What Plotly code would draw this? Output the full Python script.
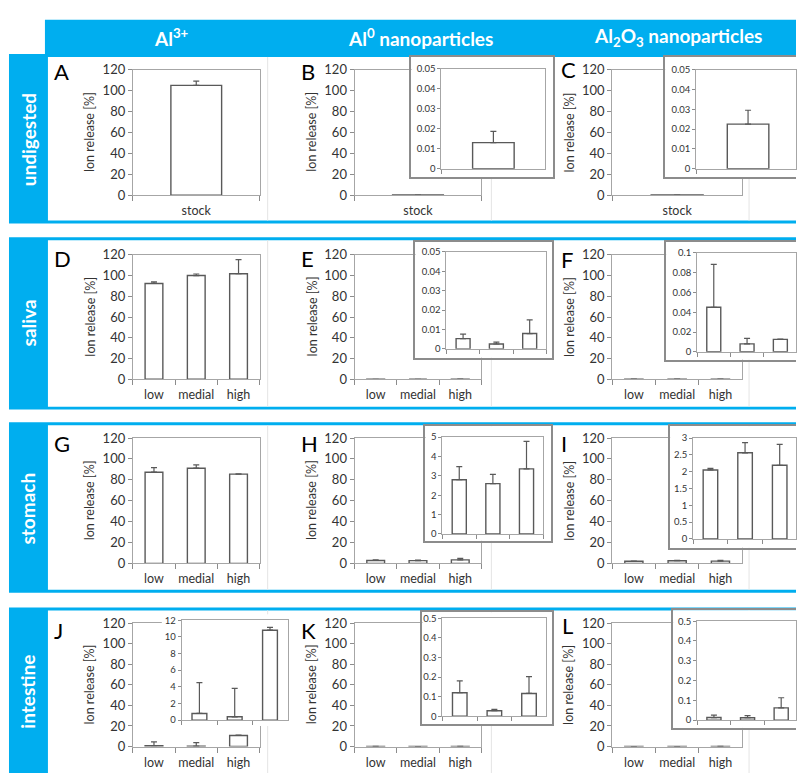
import plotly.graph_objects as go

W, H = 797, 781
BLUE = "#00AEEF"
FONT = "Lato"
TXT = "#333333"
AXC = "#8c8c8c"
FRAME = "#a6a6a6"
BARC = "#595959"
BOXC = "#8c8c8c"
SEP = "#e4e4e4"

# ---------------- data ----------------
stock_cats = ["stock"]
dose_cats = ["low", "medial", "high"]
col_titles = ["Al<sup>3+</sup>", "Al<sup>0</sup> nanoparticles",
              "Al<sub>2</sub>O<sub>3</sub> nanoparticles"]
row_titles = ["undigested", "saliva", "stomach", "intestine"]
y_title = "Ion release [%]"

A_val = [105.0];               A_err = [4.0]
B_val = [0.013];               B_err = [0.0056]
C_val = [0.0225];              C_err = [0.007]
D_val = [92.4, 100.0, 101.8];  D_err = [1.6, 1.5, 13.5]
E_val = [0.0053, 0.0025, 0.0079]; E_err = [0.0023, 0.001, 0.007]
F_val = [0.045, 0.008, 0.0126];   F_err = [0.0434, 0.0056, 0.0003]
G_val = [87.3, 91.1, 85.4];    G_err = [4.4, 3.1, 0.4]
H_val = [2.8, 2.6, 3.36];      H_err = [0.67, 0.47, 1.42]
I_val = [2.05, 2.56, 2.19];    I_err = [0.05, 0.3, 0.62]
J_val = [0.8, 0.4, 10.8];      J_err = [3.7, 3.4, 0.33]
K_val = [0.12, 0.028, 0.116];  K_err = [0.06, 0.007, 0.086]
L_val = [0.013, 0.012, 0.062]; L_err = [0.012, 0.011, 0.051]

main_range = [0, 120]
main_dtick = 20
# inset y axis: (max, dtick)
inset_scale = {"B": (0.05, 0.01), "C": (0.05, 0.01), "E": (0.05, 0.01),
               "F": (0.1, 0.02), "H": (5, 1), "I": (3, 0.5), "J": (12, 2),
               "K": (0.5, 0.1), "L": (0.5, 0.1)}

panels = [
    ("A", stock_cats, A_val, A_err), ("B", stock_cats, B_val, B_err), ("C", stock_cats, C_val, C_err),
    ("D", dose_cats, D_val, D_err), ("E", dose_cats, E_val, E_err), ("F", dose_cats, F_val, F_err),
    ("G", dose_cats, G_val, G_err), ("H", dose_cats, H_val, H_err), ("I", dose_cats, I_val, I_err),
    ("J", dose_cats, J_val, J_err), ("K", dose_cats, K_val, K_err), ("L", dose_cats, L_val, L_err),
]

# ---------------- geometry (pixels) ----------------
col_x = [(133, 260), (355, 482), (613, 743)]
row_y = [(63, 191), (252, 379), (439, 567), (628, 754)]
letter_xy = {"A": (53, 57), "B": (300, 57), "C": (561, 55),
             "D": (53, 248), "E": (300, 248), "F": (561, 249),
             "G": (53, 437), "H": (300, 437), "I": (561, 437),
             "J": (53, 628), "K": (300, 628), "L": (562, 623)}
# box (l,t,r,b), plot (l,t,r,b), border
inset_geom = {
    "B": ((412, 50, 554, 173), (442, 62, 546, 164), True),
    "C": ((666, 50, 797, 173), (697, 63, 801, 164), True),
    "E": ((416, 239, 553, 357), (447, 249, 547, 348), True),
    "F": ((667, 239, 797, 359), (698, 250, 798, 351), True),
    "H": ((426, 427, 552, 544), (443, 438, 544, 537), True),
    "I": ((671, 427, 797, 551), (694, 439, 798, 542), True),
    "J": ((162, 619, 292, 733), (182, 625, 288, 727), False),
    "K": ((423, 617, 553, 731), (443, 623, 547, 723), True),
    "L": ((674, 615, 797, 735), (698, 626, 799, 727), True),
}
rows_px = [(47, 220), (234, 410), (423, 597), (612, 790)]
sep_x = [268, 492, 750]


def dx(l, r):
    return [max(0.0, l / W), min(1.0, r / W)]


def dy(t, b):
    return [max(0.0, 1 - b / H), min(1.0, 1 - t / H)]


def nm(k):
    return "" if k == 1 else str(k)


fig = go.Figure()
layout = dict(width=W, height=H, margin=dict(l=0, r=0, t=0, b=0),
              paper_bgcolor="white", plot_bgcolor="white", showlegend=False,
              font=dict(family=FONT, color=TXT))
shapes = []
annotations = []

# background decorations
shapes.append(dict(type="rect", xref="paper", yref="paper", x0=45 / W, x1=1, y0=1 - 47 / H, y1=1 - 12 / H,
                   fillcolor=BLUE, line=dict(width=0), layer="below"))
for (t, b) in rows_px:
    shapes.append(dict(type="rect", xref="paper", yref="paper", x0=9 / W, x1=1,
                       y0=max(0, 1 - b / H), y1=1 - t / H, fillcolor=BLUE, line=dict(width=0), layer="below"))
    shapes.append(dict(type="rect", xref="paper", yref="paper", x0=48 / W, x1=1,
                       y0=max(0, 1 - (b - 3) / H), y1=1 - (t + 3) / H, fillcolor="white", line=dict(width=0),
                       layer="below"))
    for sx in sep_x:
        shapes.append(dict(type="line", xref="paper", yref="paper", x0=sx / W, x1=sx / W,
                           y0=max(0, 1 - (b - 3) / H), y1=1 - (t + 3) / H, line=dict(color=SEP, width=1),
                           layer="below"))

header_cx = [172, 421, 679]
for txt, cx in zip(col_titles, header_cx):
    annotations.append(dict(text="<b>" + txt + "</b>", x=cx / W, y=1 - 30 / H, xref="paper", yref="paper",
                            showarrow=False, font=dict(family=FONT, size=19, color="white"),
                            xanchor="center", yanchor="middle"))
row_cy = [134, 321, 511, 698]
for txt, cy in zip(row_titles, row_cy):
    annotations.append(dict(text="<b>" + txt + "</b>", x=28 / W, y=1 - cy / H, xref="paper", yref="paper",
                            showarrow=False, textangle=-90, font=dict(family=FONT, size=19, color="white"),
                            xanchor="center", yanchor="middle"))


def bar_trace(cats, vals, errs, k, width):
    return go.Bar(x=cats, y=vals, xaxis="x" + nm(k), yaxis="y" + nm(k), width=width,
                  marker=dict(color="white", line=dict(color=BARC, width=1.4)),
                  error_y=dict(type="data", symmetric=False, array=errs, arrayminus=[0] * len(errs),
                               color=BARC, thickness=1.2, width=3),
                  hoverinfo="skip")


# main panels: axes 1..12
for i, (letter, cats, vals, errs) in enumerate(panels):
    k = i + 1
    r, c = divmod(i, 3)
    l, rr = col_x[c]
    t, b = row_y[r]
    layout["xaxis" + nm(k)] = dict(domain=dx(l, rr), anchor="y" + nm(k), type="category",
                                   categoryorder="array", categoryarray=cats,
                                   range=[-0.5, len(cats) - 0.5], showline=True, mirror=True,
                                   linecolor=FRAME, linewidth=1, ticks="outside", tickson="boundaries",
                                   ticklen=5, tickcolor=AXC, tickangle=0, ticklabelstandoff=4,
                                   tickfont=dict(family=FONT, size=12.5, color=TXT),
                                   showgrid=False, zeroline=False, fixedrange=True)
    layout["yaxis" + nm(k)] = dict(domain=dy(t, b), anchor="x" + nm(k), range=main_range, dtick=main_dtick,
                                   tick0=0, showline=True, mirror=True, linecolor=FRAME, linewidth=1,
                                   ticks="outside", ticklen=4, tickcolor=AXC,
                                   tickfont=dict(family=FONT, size=13, color=TXT),
                                   showgrid=False, zeroline=False, fixedrange=True)
    fig.add_trace(bar_trace(cats, vals, errs, k, 0.4 if len(cats) == 1 else 0.42))
    annotations.append(dict(text=y_title, x=(l - 43) / W, y=1 - (t + b) / 2 / H, xref="paper", yref="paper",
                            showarrow=False, textangle=-90, font=dict(family=FONT, size=12.5, color=TXT),
                            xanchor="center", yanchor="middle"))
    lx, ly = letter_xy[letter]
    annotations.append(dict(text=letter, x=(lx - 1) / W, y=1 - (ly - 8) / H, xref="paper", yref="paper",
                            showarrow=False, font=dict(family=FONT, size=22, color="black"),
                            xanchor="left", yanchor="top"))

# inset boxes: axes 13..21 ; inset plots: 22..30
inset_letters = [p[0] for p in panels if p[0] in inset_geom]
pdict = {p[0]: p for p in panels}
for j, letter in enumerate(inset_letters):
    kb = 13 + j
    box, plot, border = inset_geom[letter]
    bl, bt, br, bb = box
    cut = br >= W
    layout["xaxis" + nm(kb)] = dict(domain=dx(bl, br), anchor="y" + nm(kb), range=[0, 1], showline=border,
                                    mirror=True, linecolor=BOXC, linewidth=2, showticklabels=False,
                                    ticks="", showgrid=False, zeroline=False, fixedrange=True)
    layout["yaxis" + nm(kb)] = dict(domain=dy(bt, bb), anchor="x" + nm(kb), range=[0, 1], showline=border,
                                    mirror=(not cut), linecolor=BOXC, linewidth=2, showticklabels=False,
                                    ticks="", showgrid=False, zeroline=False, fixedrange=True)
    fig.add_trace(go.Scatter(x=[0.5], y=[0.5], mode="markers", marker=dict(opacity=0),
                             xaxis="x" + nm(kb), yaxis="y" + nm(kb), hoverinfo="skip"))

for j, letter in enumerate(inset_letters):
    ki = 22 + j
    _, cats, vals, errs = pdict[letter]
    box, plot, border = inset_geom[letter]
    pl, pt, pr, pb = plot
    n = len(cats)
    reff = min(pr, W)
    xr = [-0.5, -0.5 + n * (reff - pl) / (pr - pl)]
    ymax, ydt = inset_scale[letter]
    layout["xaxis" + nm(ki)] = dict(domain=dx(pl, reff), anchor="y" + nm(ki), type="category",
                                    categoryorder="array", categoryarray=cats, range=xr,
                                    showline=True, mirror=True, linecolor=FRAME, linewidth=1,
                                    ticks="outside", tickson="boundaries", ticklen=4, tickcolor=AXC,
                                    showticklabels=False, showgrid=False, zeroline=False, fixedrange=True)
    layout["yaxis" + nm(ki)] = dict(domain=dy(pt, pb), anchor="x" + nm(ki), range=[0, ymax], dtick=ydt,
                                    tick0=0, showline=True, mirror=True, linecolor=FRAME, linewidth=1,
                                    ticks="outside", ticklen=3, tickcolor=AXC,
                                    tickfont=dict(family=FONT, size=9.5, color=TXT),
                                    showgrid=False, zeroline=False, fixedrange=True)
    fig.add_trace(bar_trace(cats, vals, errs, ki, 0.4 if n == 1 else 0.42))

layout["shapes"] = shapes
layout["annotations"] = annotations
fig.update_layout(**layout)
fig.write_html("out.html")
